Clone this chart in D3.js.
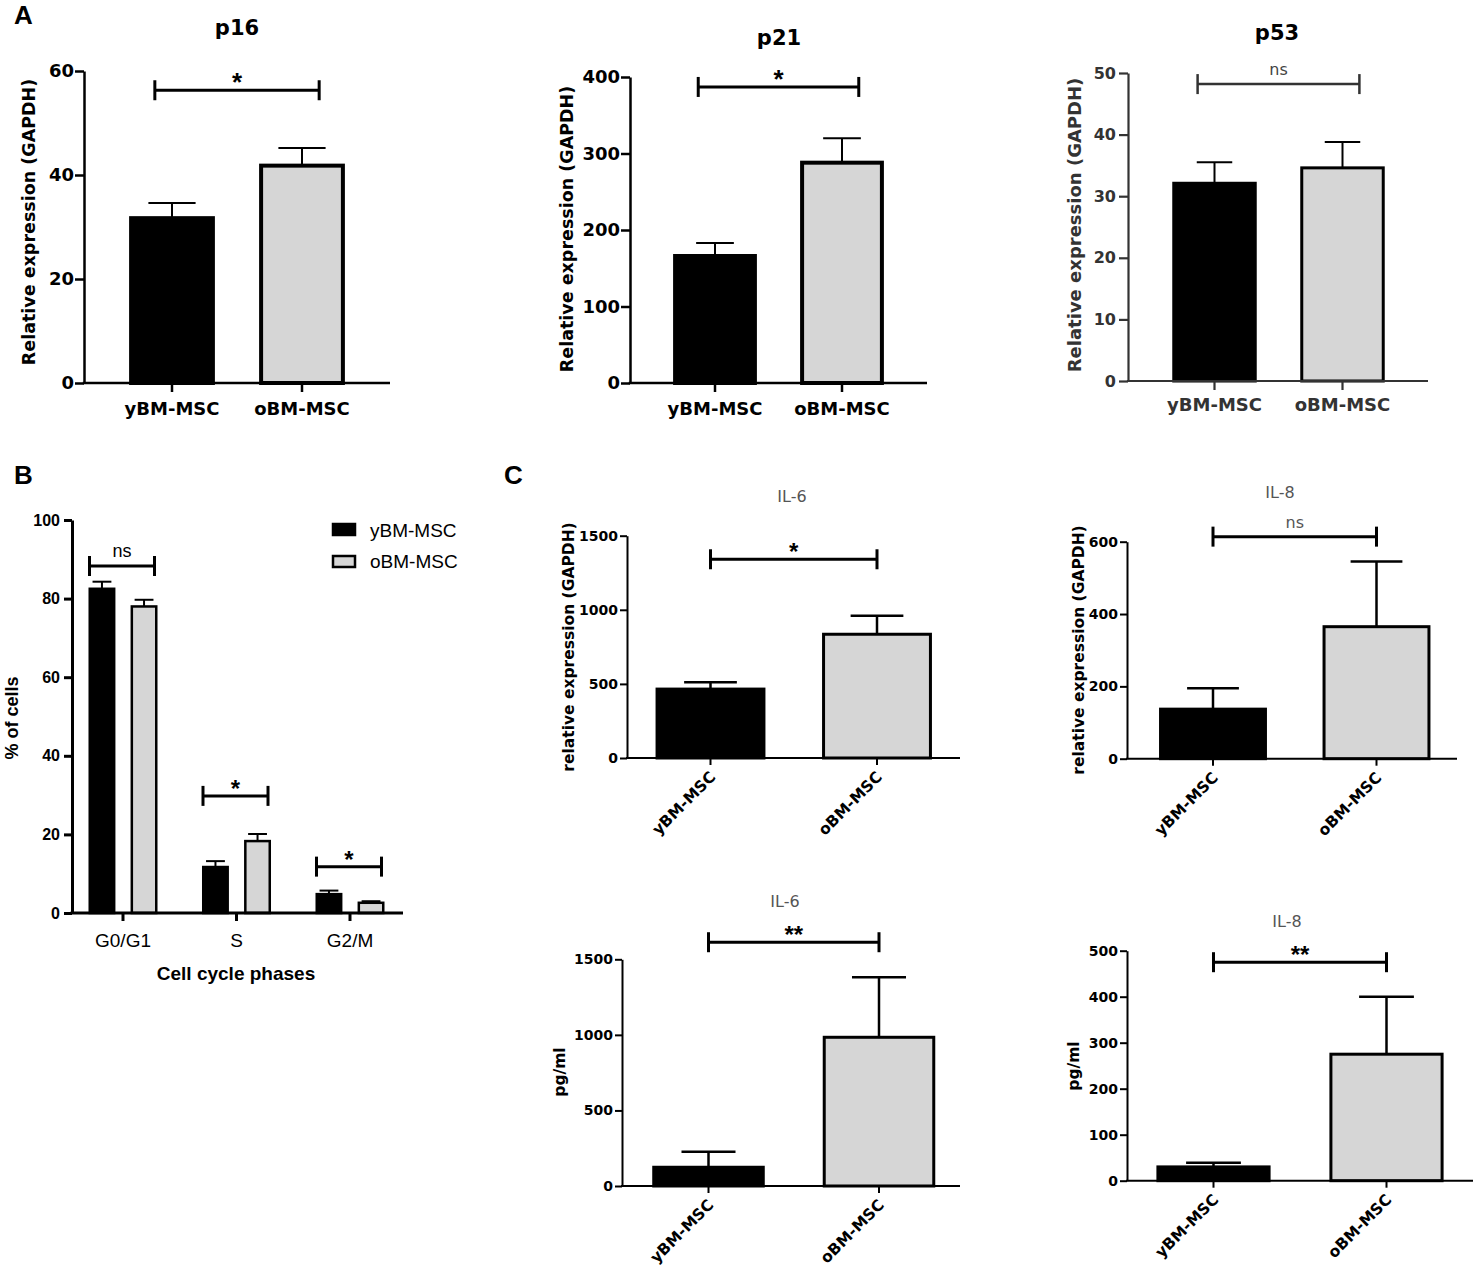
<!DOCTYPE html>
<html>
<head>
<meta charset="utf-8">
<script src="https://cdn.jsdelivr.net/npm/d3@7"></script>
<style>
body { margin: 0; background: #fff; }
svg { font-family: Arial, "Liberation Sans", sans-serif; }
</style>
</head>
<body>
<svg id="drawing_region" width="1478" height="1271"></svg>
<script>
// ---- data ----
const groups = ['yBM-MSC', 'oBM-MSC'];
const barFills = ['#000000', '#d6d6d6'];

// A: senescence markers (relative expression, mean and SEM)
const p16Mean = [31.7, 41.8];
const p16Sem = [2.9, 3.4];
const p16Ticks = [0, 20, 40, 60];
const p21Mean = [166, 288];
const p21Sem = [17, 32];
const p21Ticks = [0, 100, 200, 300, 400];
const p53Mean = [32.1, 34.6];
const p53Sem = [3.4, 4.2];
const p53Ticks = [0, 10, 20, 30, 40, 50];

// B: cell cycle
const phases = ['G0/G1', 'S', 'G2/M'];
const youngCells = [82.5, 11.7, 4.8];
const youngSem = [1.8, 1.5, 0.9];
const oldCells = [78.0, 18.3, 2.6];
const oldSem = [1.7, 1.8, 0.4];
const cellTicks = [0, 20, 40, 60, 80, 100];
const phaseSig = ['ns', '*', '*'];
const phaseSigLevel = [88.3, 29.8, 11.8];

// C: SASP
const il6RelMean = [465, 835];
const il6RelSem = [46, 125];
const il6RelTicks = [0, 500, 1000, 1500];
const il8RelMean = [137, 365];
const il8RelSem = [58, 180];
const il8RelTicks = [0, 200, 400, 600];
const il6PgMean = [124, 984];
const il6PgSem = [103, 397];
const il6PgTicks = [0, 500, 1000, 1500];
const il8PgMean = [30, 275];
const il8PgSem = [9, 125];
const il8PgTicks = [0, 100, 200, 300, 400, 500];

const svg = d3.select('#drawing_region');
const wideFont = '"DejaVu Sans", Verdana, sans-serif';
const arialFont = 'Arial, "Liberation Sans", sans-serif';

class Barchart {

    constructor( config, means, sems ) {
        this.config = config;
        this.data = groups.map( (g, i) => ({ label: g, value: means[i], sem: sems[i], fill: barFills[i] }) );
        this.init();
    }

    init() {
        let self = this;
        let c = self.config;

        self.chart = svg.append('g')
            .attr('font-family', wideFont);

        self.yscale = d3.scaleLinear()
            .domain([0, d3.max(c.ticks)])
            .range([c.bottom, c.top]);

        self.xscale = d3.scaleBand()
            .domain(groups)
            .range(c.band)
            .paddingInner(c.padding)
            .paddingOuter(c.padding / 2);

        self.yaxis = d3.axisLeft(self.yscale)
            .tickValues(c.ticks)
            .tickFormat(d3.format('d'))
            .tickSize(c.tickLen)
            .tickSizeOuter(0)
            .tickPadding(c.yPad);

        self.xaxis = d3.axisBottom(self.xscale)
            .tickSize(c.tickLen)
            .tickSizeOuter(0)
            .tickPadding(c.xPad);
    }

    update() {
        let self = this;
        let c = self.config;
        const bw = self.xscale.bandwidth();

        // error bars (upper only)
        const err = self.chart.append('g')
            .attr('stroke', '#000')
            .attr('stroke-width', c.errWidth);
        err.selectAll('line.whisker')
            .data(self.data)
            .join('line')
            .attr('class', 'whisker')
            .attr('x1', d => self.xscale(d.label) + bw / 2)
            .attr('x2', d => self.xscale(d.label) + bw / 2)
            .attr('y1', d => self.yscale(d.value))
            .attr('y2', d => self.yscale(d.value + d.sem));
        err.selectAll('line.cap')
            .data(self.data)
            .join('line')
            .attr('class', 'cap')
            .attr('x1', d => self.xscale(d.label) + bw / 2 - bw * c.capFrac / 2)
            .attr('x2', d => self.xscale(d.label) + bw / 2 + bw * c.capFrac / 2)
            .attr('y1', d => self.yscale(d.value + d.sem))
            .attr('y2', d => self.yscale(d.value + d.sem));

        self.chart.selectAll('rect')
            .data(self.data)
            .join('rect')
            .attr('x', d => self.xscale(d.label) + c.barStroke / 2)
            .attr('y', d => self.yscale(d.value))
            .attr('width', bw - c.barStroke)
            .attr('height', d => self.yscale(0) - self.yscale(d.value))
            .attr('fill', d => d.fill)
            .attr('stroke', '#000')
            .attr('stroke-width', c.barStroke);

        // significance bracket
        const sy = self.yscale(c.sigLevel);
        const sx1 = self.xscale(groups[0]) + bw / 2 - bw * c.sigPad;
        const sx2 = self.xscale(groups[1]) + bw / 2 + bw * c.sigPad;
        const sig = self.chart.append('g')
            .attr('stroke', c.color)
            .attr('stroke-width', c.sigWidth);
        sig.append('line').attr('x1', sx1).attr('x2', sx2).attr('y1', sy).attr('y2', sy);
        sig.append('line').attr('x1', sx1).attr('x2', sx1).attr('y1', sy - 10).attr('y2', sy + 10);
        sig.append('line').attr('x1', sx2).attr('x2', sx2).attr('y1', sy - 10).attr('y2', sy + 10);
        const isNs = c.sigLabel === 'ns';
        self.chart.append('text')
            .attr('x', (sx1 + sx2) / 2)
            .attr('y', isNs ? sy - 9 : sy + 1)
            .attr('text-anchor', 'middle')
            .attr('font-family', isNs ? wideFont : arialFont)
            .attr('font-size', isNs ? c.nsSize : c.starSize)
            .attr('font-weight', isNs ? 'normal' : 'bold')
            .attr('fill', isNs ? c.nsColor : c.color)
            .text(c.sigLabel);

        self.render();
    }

    render() {
        let self = this;
        let c = self.config;

        const yg = self.chart.append('g')
            .attr('transform', `translate(${c.left}, 0)`)
            .call(self.yaxis)
            .attr('font-family', null);
        yg.select('.domain').attr('stroke', c.color).attr('stroke-width', c.axisWidth);
        yg.selectAll('.tick line').attr('stroke', c.color).attr('stroke-width', c.axisWidth);
        yg.selectAll('.tick text')
            .attr('font-size', c.tickSize)
            .attr('font-weight', 'bold')
            .attr('fill', c.color);

        const xg = self.chart.append('g')
            .attr('transform', `translate(0, ${self.yscale(0)})`)
            .call(self.xaxis)
            .attr('font-family', null);
        xg.select('.domain').remove();
        xg.selectAll('.tick line').attr('stroke', c.color).attr('stroke-width', c.axisWidth);
        const xt = xg.selectAll('.tick text')
            .attr('font-size', c.catSize)
            .attr('font-weight', 'bold')
            .attr('fill', c.color);
        if (c.rotate) {
            xt.attr('y', 0).attr('dy', 0)
              .attr('text-anchor', 'end')
              .attr('transform', `translate(${c.rotOffset[0]}, ${c.rotOffset[1]}) rotate(-45)`);
        }

        self.chart.append('line')
            .attr('x1', c.left - c.axisWidth / 2)
            .attr('x2', c.right)
            .attr('y1', self.yscale(0))
            .attr('y2', self.yscale(0))
            .attr('stroke', c.color)
            .attr('stroke-width', c.axisWidth);

        self.chart.append('text')
            .attr('transform', `translate(${c.ylabelPos[0]}, ${c.ylabelPos[1]}) rotate(-90)`)
            .attr('dy', '0.35em')
            .attr('text-anchor', 'middle')
            .attr('font-size', c.ylabelSize)
            .attr('font-weight', 'bold')
            .attr('fill', c.color)
            .text(c.ylabel);

        self.chart.append('text')
            .attr('x', c.titlePos[0])
            .attr('y', c.titlePos[1])
            .attr('text-anchor', 'middle')
            .attr('font-size', c.titleSize)
            .attr('font-weight', c.titleWeight)
            .attr('fill', c.titleColor)
            .text(c.title);
    }
}

// shared styles for panel A and C
const styleA = {
    tickLen: 9, yPad: 1, xPad: 10, axisWidth: 2.5, barStroke: 4, errWidth: 2,
    sigWidth: 3, sigPad: 0.2, starSize: 26, nsSize: 16, nsColor: '#444',
    tickSize: 18, catSize: 18, ylabelSize: 17.5, titleSize: 21, titleWeight: 'bold',
    color: '#000', titleColor: '#000', rotate: false, padding: 0.34
};
const styleC = {
    tickLen: 7, yPad: 2, xPad: 0, axisWidth: 2, barStroke: 3, errWidth: 2.5,
    sigWidth: 3, sigPad: 0, starSize: 24, nsSize: 16, nsColor: '#555',
    tickSize: 14, catSize: 15.5, ylabelSize: 15.5, titleSize: 16, titleWeight: 'normal',
    color: '#000', titleColor: '#555', rotate: true, rotOffset: [6, 20], padding: 0.34, capFrac: 0.48
};

new Barchart(Object.assign({}, styleA, {
    title: 'p16', titlePos: [237, 35], ylabel: 'Relative expression (GAPDH)', ylabelPos: [29, 222],
    ticks: p16Ticks, left: 84, top: 71, bottom: 383, right: 390, band: [107, 367],
    capFrac: 0.55, sigLabel: '*', sigLevel: 56.3
}), p16Mean, p16Sem).update();

new Barchart(Object.assign({}, styleA, {
    title: 'p21', titlePos: [779, 45], ylabel: 'Relative expression (GAPDH)', ylabelPos: [567, 229],
    ticks: p21Ticks, left: 630, top: 77, bottom: 383, right: 927, band: [651.5, 905.5],
    capFrac: 0.45, sigLabel: '*', sigLevel: 387
}), p21Mean, p21Sem).update();

new Barchart(Object.assign({}, styleA, {
    title: 'p53', titlePos: [1277, 40], ylabel: 'Relative expression (GAPDH)', ylabelPos: [1075, 225],
    ticks: p53Ticks, left: 1128, top: 73, bottom: 381, right: 1428, band: [1150.5, 1406.5],
    capFrac: 0.42, sigLabel: 'ns', sigLevel: 48.2, color: '#333', axisWidth: 2.2, barStroke: 3,
    sigWidth: 2.5, ylabelSize: 18, catSize: 18, tickSize: 16, xPad: 8, yPad: 3
}), p53Mean, p53Sem).update();

new Barchart(Object.assign({}, styleC, {
    title: 'IL-6', titlePos: [792, 502], ylabel: 'relative expression (GAPDH)', ylabelPos: [569, 647],
    ticks: il6RelTicks, left: 627, top: 535.7, bottom: 758, right: 960, band: [627.25, 960.25],
    sigLabel: '*', sigLevel: 1341
}), il6RelMean, il6RelSem).update();

new Barchart(Object.assign({}, styleC, {
    title: 'IL-8', titlePos: [1280, 498], ylabel: 'relative expression (GAPDH)', ylabelPos: [1079, 650],
    ticks: il8RelTicks, left: 1127, top: 541.7, bottom: 758.7, right: 1457, band: [1131.25, 1458.25],
    sigLabel: 'ns', sigLevel: 614
}), il8RelMean, il8RelSem).update();

new Barchart(Object.assign({}, styleC, {
    title: 'IL-6', titlePos: [785, 907], ylabel: 'pg/ml', ylabelPos: [560, 1072],
    ticks: il6PgTicks, left: 622, top: 959.3, bottom: 1186, right: 960, band: [623.25, 964.25],
    sigLabel: '**', sigLevel: 1613
}), il6PgMean, il6PgSem).update();

new Barchart(Object.assign({}, styleC, {
    title: 'IL-8', titlePos: [1287, 927], ylabel: 'pg/ml', ylabelPos: [1074, 1066],
    ticks: il8PgTicks, left: 1127, top: 950.7, bottom: 1180.7, right: 1473, band: [1127, 1473],
    sigLabel: '**', sigLevel: 475
}), il8PgMean, il8PgSem).update();

// ---- panel B: grouped bars ----
(function () {
    const left = 72, top = 520, bottom = 913, right = 403;
    const g = svg.append('g');
    const yscale = d3.scaleLinear().domain([0, d3.max(cellTicks)]).range([bottom, top]);
    const xscale = d3.scaleBand().domain(phases).range([66.25, 406.75])
        .paddingInner(0.392).paddingOuter(0.196);
    const sub = d3.scaleBand().domain(groups).range([0, xscale.bandwidth()]).paddingInner(0.36);
    const bw = sub.bandwidth();

    const rows = [];
    phases.forEach((p, i) => {
        rows.push({ phase: p, group: groups[0], value: youngCells[i], sem: youngSem[i], fill: barFills[0] });
        rows.push({ phase: p, group: groups[1], value: oldCells[i], sem: oldSem[i], fill: barFills[1] });
    });
    const bx = d => xscale(d.phase) + sub(d.group);

    const err = g.append('g').attr('stroke', '#000').attr('stroke-width', 2);
    err.selectAll('line.w').data(rows).join('line').attr('class', 'w')
        .attr('x1', d => bx(d) + bw / 2).attr('x2', d => bx(d) + bw / 2)
        .attr('y1', d => yscale(d.value)).attr('y2', d => yscale(d.value + d.sem));
    err.selectAll('line.c').data(rows).join('line').attr('class', 'c')
        .attr('x1', d => bx(d) + bw * 0.15).attr('x2', d => bx(d) + bw * 0.85)
        .attr('y1', d => yscale(d.value + d.sem)).attr('y2', d => yscale(d.value + d.sem));

    g.selectAll('rect.bar').data(rows).join('rect').attr('class', 'bar')
        .attr('x', d => bx(d) + 1.25)
        .attr('y', d => yscale(d.value))
        .attr('width', bw - 2.5)
        .attr('height', d => yscale(0) - yscale(d.value))
        .attr('fill', d => d.fill)
        .attr('stroke', '#000')
        .attr('stroke-width', 2.5);

    // significance brackets
    phases.forEach((p, i) => {
        const sy = yscale(phaseSigLevel[i]);
        const x1 = xscale(p) + 1;
        const x2 = xscale(p) + xscale.bandwidth() - 3;
        const s = g.append('g').attr('stroke', '#000').attr('stroke-width', 3);
        s.append('line').attr('x1', x1).attr('x2', x2).attr('y1', sy).attr('y2', sy);
        s.append('line').attr('x1', x1).attr('x2', x1).attr('y1', sy - 10).attr('y2', sy + 10);
        s.append('line').attr('x1', x2).attr('x2', x2).attr('y1', sy - 10).attr('y2', sy + 10);
        const ns = phaseSig[i] === 'ns';
        g.append('text')
            .attr('x', (x1 + x2) / 2)
            .attr('y', ns ? sy - 9 : sy + 1)
            .attr('text-anchor', 'middle')
            .attr('font-size', ns ? 18 : 24)
            .attr('font-weight', ns ? 'normal' : 'bold')
            .text(phaseSig[i]);
    });

    const yg = g.append('g').attr('transform', `translate(${left}, 0)`)
        .call(d3.axisLeft(yscale).tickValues(cellTicks).tickSize(8).tickSizeOuter(0).tickPadding(4))
        .attr('font-family', null);
    yg.select('.domain').attr('stroke-width', 3);
    yg.selectAll('.tick line').attr('stroke-width', 3);
    yg.selectAll('.tick text').attr('font-size', 16).attr('font-weight', 'bold');

    const xg = g.append('g').attr('transform', `translate(0, ${bottom})`)
        .call(d3.axisBottom(xscale).tickSize(8).tickSizeOuter(0).tickPadding(13))
        .attr('font-family', null);
    xg.select('.domain').remove();
    xg.selectAll('.tick line').attr('stroke-width', 3);
    xg.selectAll('.tick text').attr('font-size', 19);

    g.append('line').attr('x1', left - 1.5).attr('x2', right)
        .attr('y1', bottom).attr('y2', bottom)
        .attr('stroke', '#000').attr('stroke-width', 3);

    g.append('text')
        .attr('transform', `translate(12, 718) rotate(-90)`)
        .attr('dy', '0.35em').attr('text-anchor', 'middle')
        .attr('font-size', 18).attr('font-weight', 'bold')
        .text('% of cells');
    g.append('text')
        .attr('x', 236).attr('y', 980).attr('text-anchor', 'middle')
        .attr('font-size', 19).attr('font-weight', 'bold')
        .text('Cell cycle phases');

    // legend
    const leg = g.append('g');
    leg.selectAll('rect').data(groups).join('rect')
        .attr('x', 333).attr('y', (d, i) => 524 + i * 32)
        .attr('width', 22).attr('height', 11)
        .attr('fill', (d, i) => barFills[i])
        .attr('stroke', '#000').attr('stroke-width', 2.5);
    leg.selectAll('text').data(groups).join('text')
        .attr('x', 370).attr('y', (d, i) => 537 + i * 31)
        .attr('font-size', 19)
        .text(d => d);
})();

// panel letters
svg.selectAll('text.letter')
    .data([['A', 14, 24], ['B', 14, 484], ['C', 504, 484]])
    .join('text')
    .attr('class', 'letter')
    .attr('x', d => d[1]).attr('y', d => d[2])
    .attr('font-size', 26).attr('font-weight', 'bold')
    .text(d => d[0]);
</script>
</body>
</html>
